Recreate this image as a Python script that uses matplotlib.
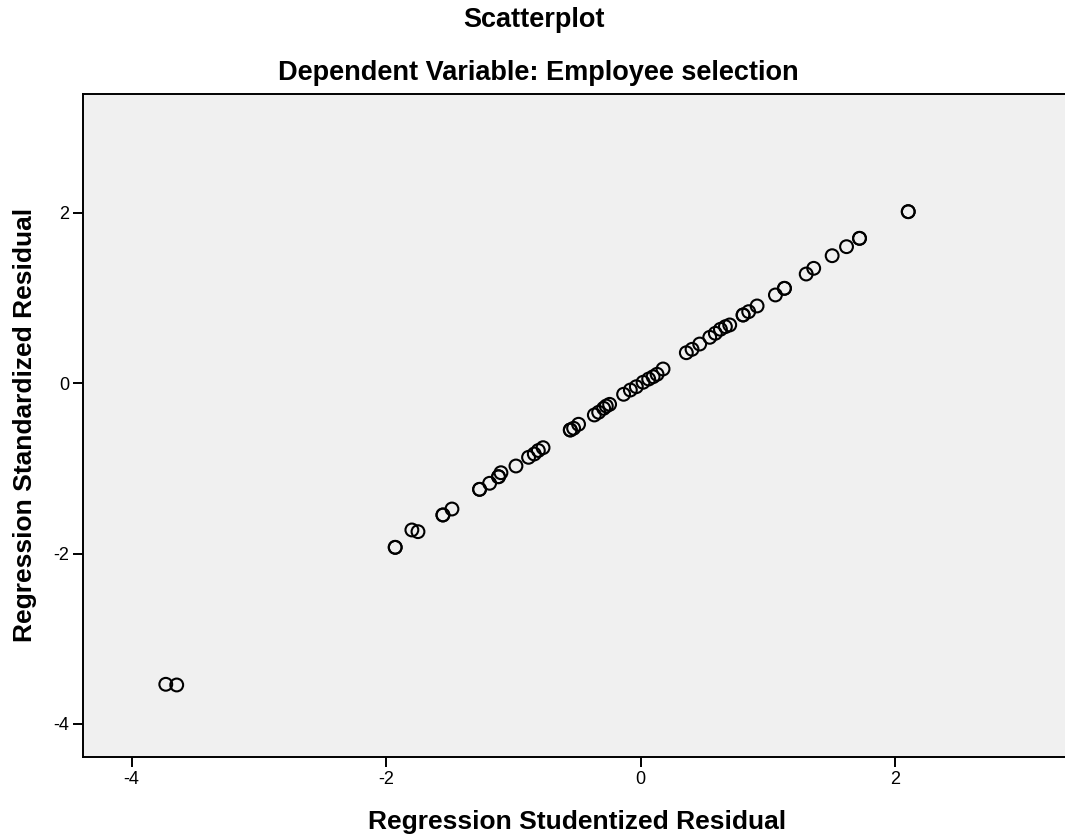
import matplotlib.pyplot as plt

# regression residuals (duplicates are overlapping cases)
studentized = [-3.732, -3.646, -1.929, -1.929, -1.798, -1.750, -1.554, -1.554,
               -1.483, -1.266, -1.266, -1.187, -1.117, -1.117, -1.098, -0.980,
               -0.881, -0.836, -0.804, -0.767, -0.553, -0.553, -0.527, -0.488,
               -0.364, -0.330, -0.291, -0.270, -0.244, -0.134, -0.081, -0.034,
               0.019, 0.063, 0.098, 0.129, 0.176, 0.359, 0.404, 0.464,
               0.543, 0.587, 0.627, 0.666, 0.700, 0.805, 0.805, 0.849,
               0.915, 1.059, 1.130, 1.130, 1.301, 1.360, 1.505, 1.618,
               1.720, 1.720, 2.103, 2.103]
standardized = [-3.534, -3.542, -1.926, -1.926, -1.722, -1.742, -1.546, -1.546,
                -1.476, -1.245, -1.245, -1.174, -1.097, -1.097, -1.050, -0.971,
                -0.869, -0.830, -0.789, -0.756, -0.548, -0.548, -0.528, -0.481,
                -0.372, -0.340, -0.294, -0.267, -0.247, -0.129, -0.079, -0.040,
                0.012, 0.050, 0.077, 0.106, 0.168, 0.359, 0.399, 0.461,
                0.540, 0.587, 0.634, 0.665, 0.685, 0.802, 0.802, 0.841,
                0.908, 1.037, 1.115, 1.115, 1.283, 1.350, 1.498, 1.604,
                1.702, 1.702, 2.015, 2.015]
tick_values = [-4, -2, 0, 2]
tick_labels = ["-4", "-2", "0", "2"]

plt.rcParams['font.family'] = ['Liberation Sans', 'DejaVu Sans']

fig = plt.figure(figsize=(10.65, 8.39), dpi=100)
ax = fig.add_axes([0.078, 0.0977, 0.925, 0.7903])
ax.set_facecolor('#F0F0F0')

ax.scatter(studentized, standardized, s=85, facecolors='none',
           edgecolors='black', linewidths=1.5, zorder=3)

ax.set_xlim(-4.382, 3.36)
ax.set_ylim(-4.388, 3.397)
ax.set_xticks(tick_values)
ax.set_xticklabels(tick_labels)
ax.set_yticks(tick_values)
ax.set_yticklabels(tick_labels)
ax.tick_params(direction='out', length=7, width=1.4, labelsize=13, pad=3,
               colors='black')

for side in ['left', 'top', 'bottom']:
    ax.spines[side].set_linewidth(1.4)
    ax.spines[side].set_color('black')
ax.spines['right'].set_visible(False)

fig.text(0.501, 0.976, "Scatterplot", ha='center', va='center',
         fontsize=19.5, fontweight='bold')
fig.text(0.505, 0.913, "Dependent Variable: Employee selection", ha='center',
         va='center', fontsize=19.5, fontweight='bold')
fig.text(0.542, 0.020, "Regression Studentized Residual", ha='center',
         va='center', fontsize=19, fontweight='bold')
fig.text(0.0235, 0.493, "Regression Standardized Residual", ha='center',
         va='center', rotation=90, fontsize=19, fontweight='bold')

fig.savefig("out.png", dpi=100)
